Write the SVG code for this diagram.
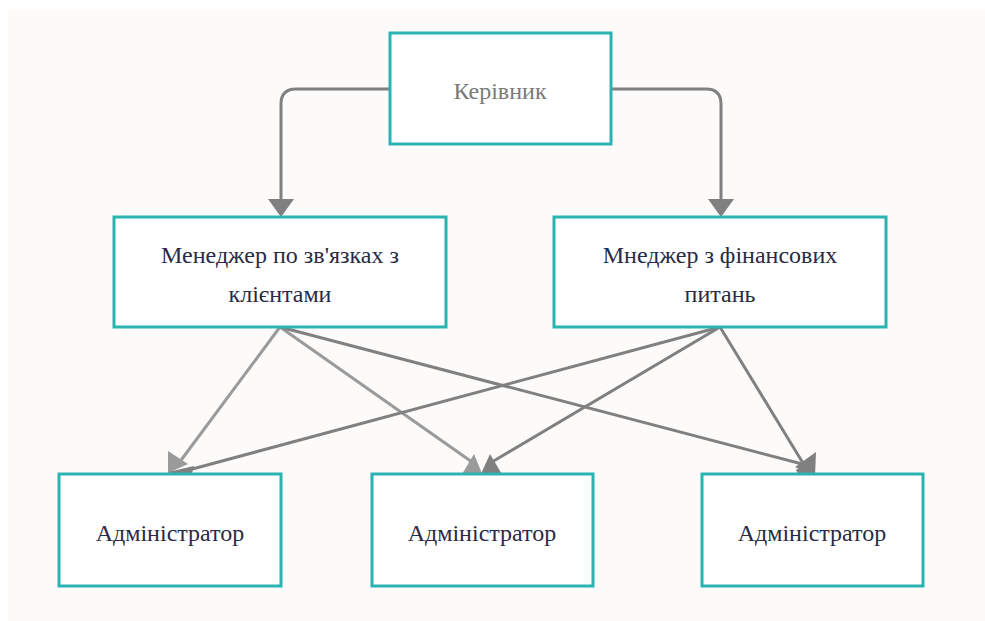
<svg xmlns="http://www.w3.org/2000/svg" width="985" height="621" viewBox="0 0 985 621">
<style>
.box{fill:#ffffff;stroke:#2ab3b3;stroke-width:3}
.t{font-family:"Liberation Serif","Times New Roman",serif;font-size:24px;fill:#2a2a44;text-anchor:middle}
.tg{fill:#7a7a7a}
.ln{fill:none;stroke:#808080;stroke-width:3}
.lnl{fill:none;stroke:#9a9a9a;stroke-width:3}
.ah{fill:#808080}
.ahl{fill:#9a9a9a}
</style>
<rect x="0" y="0" width="985" height="621" fill="#ffffff"/>
<rect x="8" y="10" width="977" height="611" fill="#fcfbfa"/>
<g id="connectors">
<path class="ln" d="M390,89 H296 Q281,89 281,104 V202"/>
<polygon class="ah" points="268,199 294,199 281,217"/>
<path class="ln" d="M611,89 H706 Q721,89 721,104 V202"/>
<polygon class="ah" points="708,199 734,199 721,217"/>
<line class="lnl" x1="280" y1="327" x2="176" y2="467"/>
<line class="lnl" x1="280" y1="327" x2="472" y2="462"/>
<line class="ln" x1="280" y1="327" x2="806" y2="465"/>
<line class="ln" x1="720" y1="327" x2="185" y2="471"/>
<line class="ln" x1="720" y1="327" x2="492" y2="462"/>
<line class="ln" x1="720" y1="327" x2="806" y2="468"/>
<polygon class="ahl" points="168,451 168,473 188,464"/>
<polygon class="ah" points="168,472 194,466 189,484"/>
<polygon class="ahl" points="461,476 483,476 474,454"/>
<polygon class="ah" points="480,476 503,476 490,454"/>
<polygon class="ah" points="816,452 795,467 815,476"/>
<polygon class="ah" points="816,455 796,470 803,484"/>
</g>
<g id="boss">
<rect class="box" x="390" y="33" width="221" height="111"/>
<text class="t tg" x="500" y="99">Керівник</text>
</g>
<g id="manager-clients">
<rect class="box" x="114" y="217" width="332" height="110"/>
<text class="t" x="280" y="263">Менеджер по зв'язках з</text>
<text class="t" x="280" y="302">клієнтами</text>
</g>
<g id="manager-finance">
<rect class="box" x="554" y="217" width="332" height="110"/>
<text class="t" x="720" y="263">Мнеджер з фінансових</text>
<text class="t" x="720" y="302">питань</text>
</g>
<g id="admin-1">
<rect class="box" x="59" y="474" width="222" height="112"/>
<text class="t" x="170" y="541">Адміністратор</text>
</g>
<g id="admin-2">
<rect class="box" x="372" y="474" width="221" height="112"/>
<text class="t" x="482" y="541">Адміністратор</text>
</g>
<g id="admin-3">
<rect class="box" x="702" y="474" width="221" height="112"/>
<text class="t" x="812" y="541">Адміністратор</text>
</g>
</svg>
